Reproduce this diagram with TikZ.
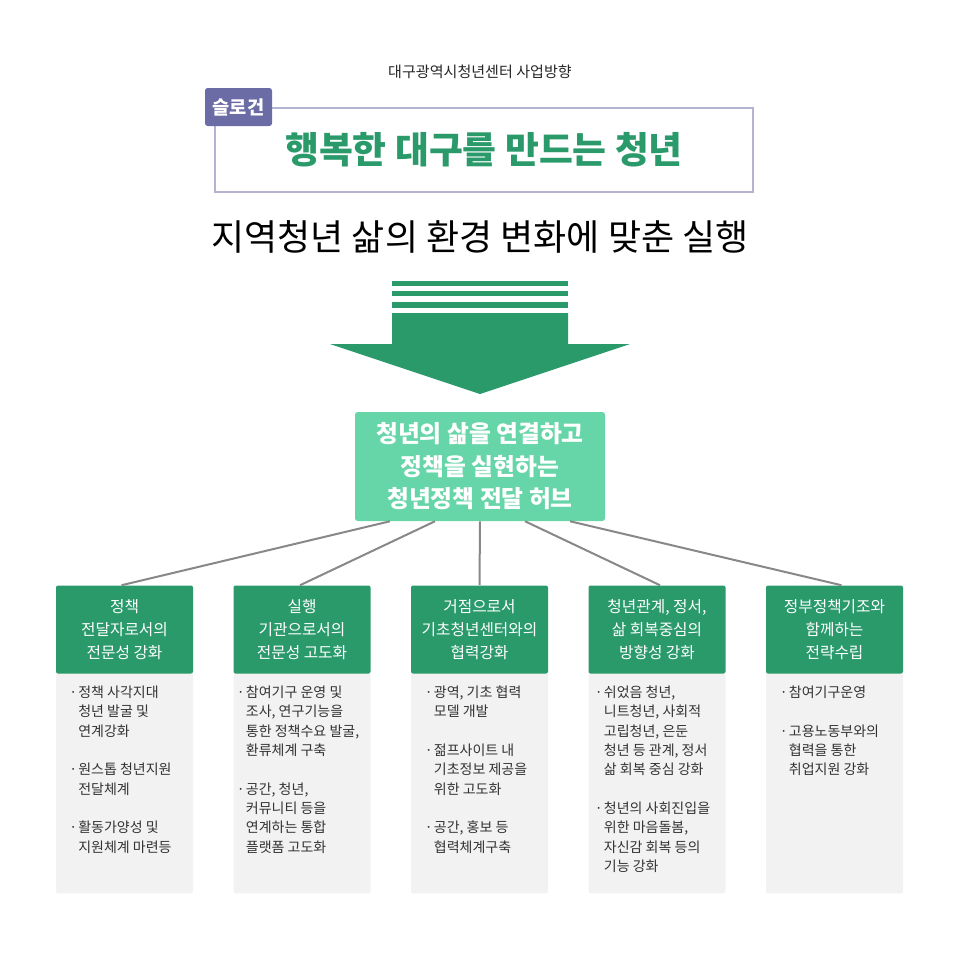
\documentclass[tikz,border=0pt]{standalone}
\usepackage{fontspec}
\setmainfont{Noto Sans CJK KR}
\usepackage{xcolor}
\usepackage{tikz}
\usetikzlibrary{positioning,calc}

\definecolor{dgreen}{HTML}{2A9A6B}
\definecolor{lgreen}{HTML}{66D5A8}
\definecolor{tagblue}{HTML}{6B6BA5}
\definecolor{framegray}{HTML}{B4B4D2}
\definecolor{panelgray}{HTML}{F2F2F2}
\definecolor{linegray}{HTML}{888888}
\definecolor{txtgray}{HTML}{333333}

\newcommand{\bdot}{\makebox[6.75pt][l]{·}}
\newcommand{\bgap}{\hspace*{6.75pt}}

\begin{document}
\begin{tikzpicture}[x=0.75pt,y=-0.75pt,
    hdbox/.style={fill=dgreen, rounded corners=1.5pt, minimum width=102.75pt,
        minimum height=66pt, inner sep=0pt, align=center, text=white,
        font=\fontsize{11.8}{17}\selectfont},
    panel/.style={fill=panelgray, rounded corners=1.5pt, minimum width=102.75pt,
        minimum height=166.5pt, anchor=north, inner sep=0pt},
    itemtext/.style={anchor=north west, inner sep=0pt, align=left, text=txtgray,
        font=\fontsize{10.5}{14.5}\selectfont},
    link/.style={draw=linegray, line width=1.5pt}]
    \useasboundingbox (0,0) rectangle (960,960);

    % Title and slogan
    \node[text=black!85, font=\fontsize{11.3}{13}\selectfont] (title) at (480,72) {대구광역시청년센터 사업방향};
    \node[draw=framegray, line width=1.5pt, minimum width=403.5pt, minimum height=63pt,
        text=dgreen, font=\bfseries\fontsize{27.6}{30}\selectfont] (slogan) at (484,150) {행복한 대구를 만드는 청년};
    \node[fill=tagblue, rounded corners=2pt, minimum width=50.25pt, minimum height=28.5pt,
        inner sep=0pt, text=white, font=\bfseries\fontsize{14}{16}\selectfont] (tag) at (238.5,107) {슬로건};
    \node[text=black, font=\fontsize{27}{30}\selectfont] (sub) at (480,237) {지역청년 삶의 환경 변화에 맞춘 실행};

    % Arrow
    \fill[dgreen] (392,281) rectangle (568,285.5);
    \fill[dgreen] (392,291) rectangle (568,296);
    \fill[dgreen] (392,302) rectangle (568,307.5);
    \fill[dgreen] (392,313) -- (568,313) -- (568,344) -- (630,344) -- (480,394)
        -- (330,344) -- (392,344) -- cycle;

    % Hub
    \node[fill=lgreen, rounded corners=2pt, minimum width=187.5pt, minimum height=81.75pt,
        align=center, text=white, font=\bfseries\fontsize{17.8}{24.4}\selectfont] (hub) at (480,466.5)
        {청년의 삶을 연결하고\\정책을 실현하는\\청년정책 전달 허브};

    % Panels
    \node[panel] (b1) at (124.5,671) {};
    \node[panel] (b2) at (302,671) {};
    \node[panel] (b3) at (479.5,671) {};
    \node[panel] (b4) at (657,671) {};
    \node[panel] (b5) at (834.5,671) {};

    % Headers
    \node[hdbox] (h1) at (124.5,629.5) {정책\\전달자로서의\\전문성 강화};
    \node[hdbox] (h2) at (302,629.5) {실행\\기관으로서의\\전문성 고도화};
    \node[hdbox] (h3) at (479.5,629.5) {거점으로서\\기초청년센터와의\\협력강화};
    \node[hdbox] (h4) at (657,629.5) {청년관계, 정서,\\삶 회복중심의\\방향성 강화};
    \node[hdbox] (h5) at (834.5,629.5) {정부정책기조와\\함께하는\\전략수립};

    % Items
    \node[itemtext] (t1) at (69,685.5) {\bdot 정책 사각지대\\\bgap 청년 발굴 및\\\bgap 연계강화\\[14.5pt]
        \bdot 원스톱 청년지원\\\bgap 전달체계\\[14.5pt]
        \bdot 활동가양성 및\\\bgap 지원체계 마련등};
    \node[itemtext] (t2) at (236.7,685.5) {\bdot 참여기구 운영 및\\\bgap 조사, 연구기능을\\\bgap 통한 정책수요 발굴,\\\bgap 환류체계 구축\\[14.5pt]
        \bdot 공간, 청년,\\\bgap 커뮤니티 등을\\\bgap 연계하는 통합\\\bgap 플랫폼 고도화};
    \node[itemtext] (t3) at (424.7,685.5) {\bdot 광역, 기초 협력\\\bgap 모델 개발\\[14.5pt]
        \bdot 젊프사이트 내\\\bgap 기초정보 제공을\\\bgap 위한 고도화\\[14.5pt]
        \bdot 공간, 홍보 등\\\bgap 협력체계구축};
    \node[itemtext] (t4) at (594.7,685.5) {\bdot 쉬었음 청년,\\\bgap 니트청년, 사회적\\\bgap 고립청년, 은둔\\\bgap 청년 등 관계, 정서\\\bgap 삶 회복 중심 강화\\[14.5pt]
        \bdot 청년의 사회진입을\\\bgap 위한 마음돌봄,\\\bgap 자신감 회복 등의\\\bgap 기능 강화};
    \node[itemtext] (t5) at (779.7,685.5) {\bdot 참여기구운영\\[14.5pt]
        \bdot 고용노동부와의\\\bgap 협력을 통한\\\bgap 취업지원 강화};

    % Connections
    \draw[link] ($(hub.south)+(-90,0)$) -- ($(h1.north)+(-3,0)$);
    \draw[link] ($(hub.south)+(-45,0)$) -- ($(h2.north)+(-2,0)$);
    \draw[link] (hub.south) -- (h3.north);
    \draw[link] ($(hub.south)+(45,0)$) -- ($(h4.north)+(3,0)$);
    \draw[link] ($(hub.south)+(90,0)$) -- ($(h5.north)+(7,0)$);
\end{tikzpicture}
\end{document}
